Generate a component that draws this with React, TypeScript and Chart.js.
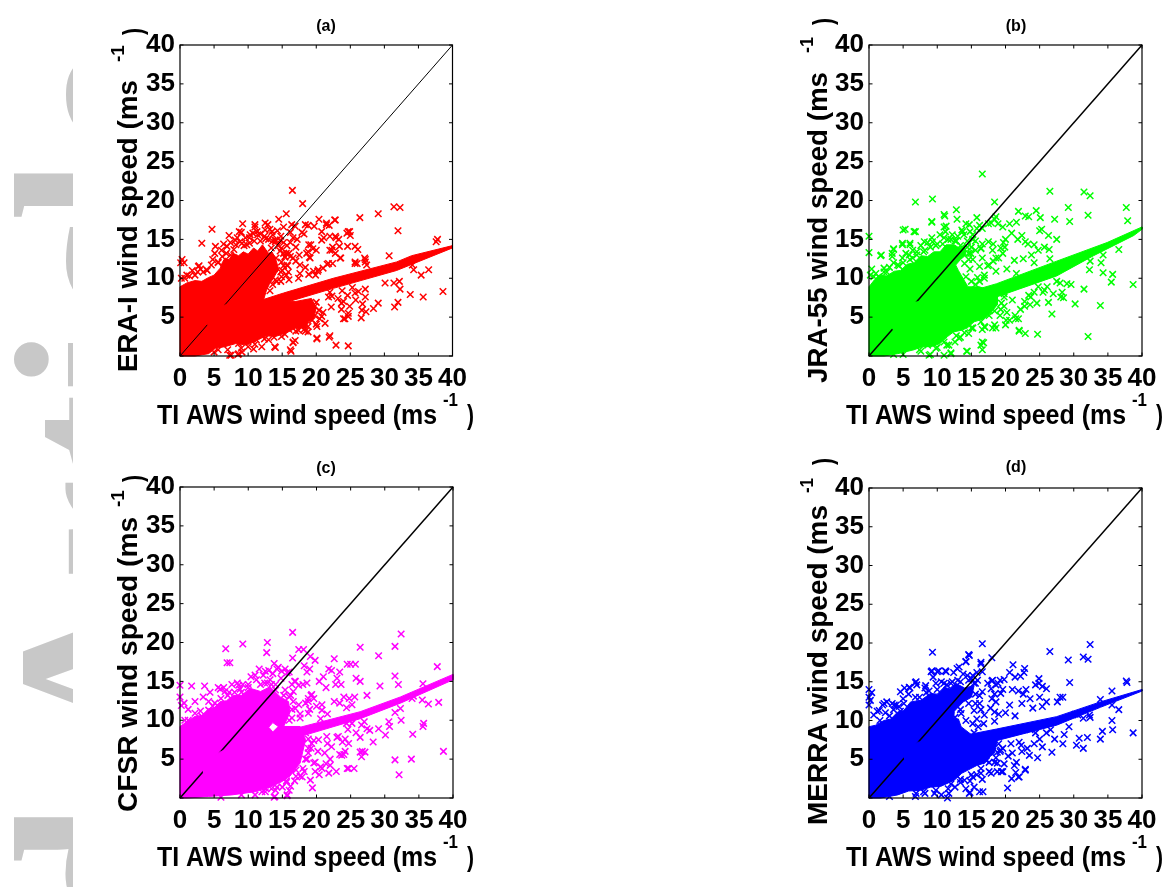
import React, { useEffect, useRef } from "react";
import { Chart, registerables } from "chart.js";

Chart.register(...registerables);

type P = [number, number];

const axisTicks = [0, 5, 10, 15, 20, 25, 30, 35, 40];
const xTitle = "TI AWS wind speed (ms";
const identityLine: P[] = [[0, 0], [40, 40]];

// ---- (a) ERA-I
const eraOutline: P[] = [[0,0],[0,8.9],[1,9.4],[2.2,9.7],[3.2,9.6],[4.2,10.1],[5,10.4],[5.9,11.3],[6.2,12],[6.6,12.6],[7.2,12.4],[7.8,13.2],[8.6,12.9],[9.3,13.4],[10,13.1],[10.8,13.9],[11.4,13.5],[12.1,14.3],[13,13.2],[13.5,13.4],[14,12.6],[14.5,11.1],[14.1,10.6],[13.7,10],[13.1,9.2],[12.7,8.5],[12.2,7],[16.9,7],[19.3,7.4],[20,6.2],[19.6,4.8],[18.9,4.4],[18.4,3.6],[17,3.6],[15.9,3.1],[14,2.5],[12.6,2.6],[11.5,2.1],[9.8,1.4],[8.2,1.6],[6.6,1.2],[5.2,1],[4.2,0.3],[2.2,0],[0,0]];
const eraBandUpper: P[] = [[4,4.8],[6.1,6.4],[7.8,6.9],[12,7.2],[15.2,8.1],[22.5,10],[31.8,12.1],[34,12.9],[40,14.2]];
const eraBandLower: P[] = [[40,13.9],[31.8,11],[22.5,8.7],[15.2,6.8],[7.8,5.4],[5,3.8],[4,4]];
const eraPoints: P[] = [
[16.5,21.3],[18,19.6],[15.6,18.3],[14.5,17.6],[31.4,19.2],[32.3,19.1],[29.1,18.3],[26.4,17.8],[22.7,17.5],[20.4,17.6],[21.5,16.9],[21.9,16.8],[32,16.1],[4.7,16.3],[3.2,14.5],[5.2,14.1],[7.2,15.5],[9.2,17],[37.8,15],[37.6,14.7],[24.9,16],[24.5,15.8],[25,15.5],[38.6,8.3],[35.7,7.6],[33.8,7.9],[36.5,11.1],[35.4,10.4],[34.1,11.7],[34.3,11.1],[30.7,12.9],[30.1,9.4],[31.4,9.4],[32.2,9.6],[32.3,8.6],[31.5,6.3],[32,6.9],[29.1,6.8],[28.4,6.1],[27.3,5.7],[26.8,6.7],[26.6,4.9],[24.7,5.1],[24,4.8],[24.7,1.3],[22.9,1.4],[21.9,2.4],[20.1,2.2],[16.3,0.6],[14,1.1],[16.6,1.7],[16.9,2],[10.8,0.9],[9.1,0.5],[7.5,0.1],[8.5,0.2],
[0.1,12],[0.3,12.4],[0.6,12],[2.8,11.6],[3,11.2],[2.6,10.8],[4,11],[1.4,10.3],[0.2,10],
[18.2,15.7],[17.9,15.9],[17.2,15],[18.8,16.8],[16.9,16.7],[16.2,15.9],[19.5,13.8],[19.2,14.3],[18.8,13.4],[20,13.6],[19,12.7],[18.4,11.4],[17.5,13],[16.2,12.8],[16.6,12.6],[21.1,15.2],[20.8,14.9],[22,15.4],[22.9,15.2],[23.3,15],[22.4,14],[22,13.6],[22.8,13.2],[23.4,14.1],[25.7,14.1],[24.6,14.1],[26.1,13.7],[23.6,12.6],[27.1,12.6],[27.2,12.1],[25.7,11.9],[26,11.9],[21,11.3],[20.2,10.9],[19.6,10.9],[19.9,10.4],[21.6,11.8],[22.4,11.9],[18.9,10.5],
[22,8.2],[22.3,7.7],[23.8,8.4],[24.6,7.8],[23.2,7.4],[24,7],[25.3,8.8],[26.2,8.3],[27.2,8.6],[25.8,7.2],[24.9,6.4],[23.7,6],[22.2,6.3],[21,5.6],[20.5,4.8],[20,4.1],[19.4,4.6],[18.4,3.2],[18,4],[17.1,3.9],[16,3.4],[15.2,3.8],[13,3],[12,2.7],[11.2,2.1],[10.2,2.6],[8.6,1.6],
[5.6,12],[6.2,12.8],[6.8,13.2],[7.4,13],[7.9,13.7],[8.2,14.3],[8.8,14.7],[9,15.9],[9.6,15.2],[10.2,14.5],[10.7,15.8],[11,16.6],[11.4,15.6],[11.8,14.8],[12.6,15.1],[12.9,16.9],[13.2,16.3],[13.6,15.6],[14,14.9],[14.3,16.1],[14.8,15.4],[15.2,16.6],[15.7,14.2],[16,13.2],[15.4,12.7],[14.7,13.5],[14.1,12.6],[13.4,13.9],[15,11],[15.6,10.4],[14.8,9.6],[14,9.8],[16,9.8],[15.8,11.6],
[2.7,11.5],[8.7,16],[11,16.9],[12.5,17.1],[16.4,16.9],[18.4,16.9],[19.7,16.7],[22.8,17.5],[21.5,17.1],[20.8,16],[22.8,15.4],[24.7,16],[22.3,13.6],[18.9,14.3],[18.6,13.2],[19.1,12.6],[17.6,11.7],[17.6,10.6],[17.4,10],[20.3,11.1],[21.8,11.9],[23.5,12.6],[25.7,12.1],[27.2,12.4],[27.4,11.7],
[6.1,13.6],[6.9,14.1],[8.1,14.9],[9.1,14.5],[10.3,15.6],[11.3,16],[12.5,16.2],[13.5,16],[14,14.7],[14.9,13.9],[15.4,12.8],[15.7,11.7],[14.9,10.2],[14.7,14.9],[9.8,14.3],[5.6,12.1],[4.6,11.7],[3.9,11.1],[2.2,10.4],[0.7,10],[5.1,13.2],
[19.8,6.4],[20.8,5.1],[21.3,4.2],[20.1,3.8],[18.8,3.1],[17.4,3.3],[16.6,1.8],[16.2,0.8],[20.1,2.3],[22,2.6],[13.9,1.2],[12,1.2],[10,1.2],[8.6,0.3],[7.3,0.1],[14.9,2.5],[13,2.1],[11,1.5],[5.6,0.8],[21.8,7.6],[23.7,6.8],[24.7,5.5],[24.2,4.8],[26.7,5.9],[27.2,7.6],[25.7,8.1],
[6.4,14.4],[7.4,14.6],[8.4,15.2],[9.4,14.2],[10.2,15.2],[10.9,14.8],[11.8,15.7],[12.4,15.4],[13,15],[13.6,14.8],[14.4,14.2],[15.2,14.6],[15.6,13.2],[16.2,14.6],[16.6,15.2],[15.2,13.2],[14.9,12.1],[15.2,11.6],[14.8,10.8],[14.2,9.6],[13.6,9.2],[13.2,8.4],[15.9,10.8],[17,12.2],[17,14],[1,10.4],[1.8,11],[3.4,10.8],[4.8,12.4],[10.6,2.2],[12.4,2.2],[13.8,2.4],[15.4,2.8],[17,3.2],[18.8,3.8],[19.8,5.2],[20.4,5.9],[20,6.9],[18.2,3.4],[7,0.8],[9,1],[5,0.5]
];

// ---- (b) JRA-55
const jraOutline: P[] = [[0,0],[0,8.9],[0.8,9.8],[1.5,10.4],[2.6,10.3],[3.7,10.9],[4.6,11],[5.6,11.8],[6.6,12],[7.6,12.9],[8.6,12.8],[9.5,13.4],[10.4,13.4],[11.3,14.3],[12.5,14.3],[13.2,13.9],[14,14.3],[14.2,13],[13.4,12.4],[12.7,11.7],[13.1,11],[13.5,10.4],[14.5,8.9],[16.2,8.9],[18.8,8],[18.8,6.6],[17.9,5.6],[16.9,4.8],[15.4,4.4],[14.4,3.6],[13.5,3.3],[12.4,3.1],[11.5,2.5],[10.4,1.6],[9.1,1.2],[7.8,1.2],[6.6,0.8],[4.2,0.3],[2.2,0],[0,0]];
const jraBandUpper: P[] = [[3.2,3.8],[6.6,6.9],[12,7.6],[18.7,9.3],[27.5,12.2],[34.9,14.6],[40,16.6]];
const jraBandLower: P[] = [[40,16.3],[38.8,15.5],[32.9,12.9],[27.5,10.3],[18.7,7.6],[12,6],[6.6,5.2],[3.6,3.2]];
const jraPoints: P[] = [
[16.6,23.4],[6.8,19.8],[9.3,20.2],[18.4,19.8],[26.5,21.2],[31.5,21.1],[32.4,20.6],[29.2,19.1],[37.7,19.1],[32.1,18.1],[37.9,17.4],[29.4,17.3],[27.2,17.6],[12.8,18.8],[11,18.2],[11.1,18],[9.2,17.3],[12.9,17.6],[15.8,17.8],[0,15.4],[0,13.3],[1.8,13],[3.6,13.8],[3.4,13.2],[5.3,16.3],[6.8,16],[4.9,14.5],[6,14.5],[24.5,18.7],[21.9,18.6],[22.9,18],[23.4,17.9],[25.1,17.8],[27.5,15],[26.3,15.5],[25,16.1],[25.3,16.3],[22.4,15.5],[38.7,9.2],[35.7,10.5],[35.5,9.5],[36.6,13.7],[34.3,13],[34,12],[34.3,10.7],[32.4,12.2],[32.3,11.1],[31.5,8.6],[30.2,6.7],[33.9,6.5],[32.1,2.5],[24.7,2.8],[22.9,2.9],[22,3.3],[26.8,5.4],[26.3,6.9],[28.5,7.5],[28.3,8.2],[29,9.3],[29.6,9.2],[16.6,0.8],[16.8,1.7],[16.4,1.4],[14.3,0.6],[11,0.1],[9,0.2],[12,0.4],
[18.4,17.6],[18.9,17],[17.5,17],[19.6,16.6],[20,15],[20.6,17],[21.6,17.2],[20.9,15.8],[19.7,14.6],[18.2,14.4],[17.5,14.7],[16.4,13.8],[16.6,14.4],[19.6,13.2],[19,12.6],[18.2,12.2],[19.9,14],[21.8,15],[22.9,14.7],[23.3,14.4],[24.2,14.3],[24.8,13.6],[23.8,13],[25.7,14],[26.4,13.7],[22.6,12.5],[21.3,12.3],[24.2,12],[26.5,12.5],[20.2,11.2],[17.4,11.6],[16.9,10.4],[18.6,10.9],[21.6,10.6],
[27,8],[26.1,8.9],[25.5,8.2],[24.8,8.9],[24.2,8.2],[23.4,7.8],[22.8,7],[23.6,6.6],[24.6,6.8],[22.2,6],[21.4,5.2],[21.9,4.8],[20.6,4.6],[20,4],[20.2,5.6],[19.2,5.2],[18.4,4],[18.6,3.6],[17,3.7],[16.6,3.4],[15.2,3.6],[14.6,2.9],[13.4,2.4],[12.6,1.8],[11.4,1.4],[10,1.1],[8.6,1.4],[7.4,0.8],[27.5,9.6],[28,9.4],
[0.4,11.2],[0.2,10.4],[1.4,10.2],[2.2,10.8],[3,11.4],[3.6,12],[4.4,11.6],[4.9,12.6],[5.4,13.2],[6,12.4],[6.4,13.6],[7,13],[7.6,14.2],[8.2,13.6],[8.6,14.6],[9.2,15.2],[9.8,14.2],[10.4,15.6],[10.8,14.4],[11.2,16],[11.6,15],[12.6,14.8],[13,15.4],[13.4,14.2],[13.9,15.6],[14.4,14.8],[14.8,16],[15.2,15],[15.6,13.6],[15.2,12.4],[14.6,13.2],[15.8,16.4],[16.2,16.8],[14.2,17],[13.6,16.2],[11,16.6],
[1.7,12.9],[3.4,12.8],[3.6,13.7],[5,16.2],[6.6,16],[6,14.3],[4.9,14.3],[8.1,14.7],[9.2,17.2],[11.3,16.7],[14.7,16.9],[13.7,16],[12.2,15.6],[11,15.2],[9.3,14.7],[15.2,15.6],[16.6,16.4],[17.9,17.1],[18.6,17.9],[16.4,13.9],[18.1,13.6],[19.3,13.9],[18.6,12.6],[16.6,12.6],[16.2,11.5],[14.9,13.2],[14,11.9],[17.6,11.7],[16.9,10],[15.9,10.1],[4.2,11.7],[5.9,13],[2.2,11.3],[0.7,10.2],
[19.8,7.6],[21,7.2],[21.5,4.8],[20.1,4.6],[19.8,6.4],[19.3,6],[18.1,3.6],[16.9,3.8],[15.2,3.6],[16.6,1.8],[14.4,0.6],[12,0.3],[8.8,0.1],[11.7,1.4],[13.2,2.3],[22,3.2],[22.8,6.4],[23.7,7.6],[25.7,8.5],[28.1,7.6],
[5,12],[6.4,12.6],[7,13.4],[8,13.4],[9,14],[10,14.4],[12,15],[12.8,14.8],[14.4,14],[15,14],[15.6,14.8],[14.6,12.4],[14.8,11.2],[14.2,10.2],[15,9.6],[15.6,9.2],[16.2,9.6],[1,10.6],[2.6,10.8],[17.6,5.2],[18.4,5.8],[19.4,6.8],[19.8,8],[16.4,4.4],[15,3.6],[14,3],[12.8,2.6],[11,1.8],[9.8,1],[7.6,0.6],[5,0.2],[3.6,0.2]
];

// ---- (c) CFSR
const cfsrOutline: P[] = [[0,0],[0,9.2],[1,9.8],[2.2,10.5],[3.2,10.6],[4.2,11.5],[5,11.6],[5.9,12.4],[6.8,12.5],[7.8,13.2],[9,13.2],[10.3,14.1],[11.8,13.7],[13.2,14.3],[14.7,13],[15.9,12.4],[16.1,11],[15.2,9.2],[14.4,9.2],[13.6,9.7],[13,9.1],[13.6,8.5],[14.4,9.2],[15.2,9.2],[17.6,9.2],[18.4,7.5],[18,6],[17.6,4.5],[16.8,3.6],[16.1,2.8],[14.9,2.1],[13.5,1.5],[11,0.8],[7.6,0.4],[4.2,0.2],[1.2,0],[0,0]];
const cfsrBandUpper: P[] = [[3.2,4.2],[5.6,5.8],[10,7.6],[17.6,9.1],[26.4,11.1],[32.3,13],[40,15.9]];
const cfsrBandLower: P[] = [[40,15.2],[32.3,12.2],[26.4,10.2],[17.6,7.9],[10,6.2],[5.6,4.4],[3.4,3]];
const cfsrPoints: P[] = [
[16.5,21.3],[32.4,21.1],[31.5,19.5],[12.8,20],[9.2,19.8],[6.7,19.2],[12.7,18.7],[18.1,19.1],[17.4,19.1],[16.5,18],[19.1,18.2],[19.8,17.7],[22.6,17.9],[29.1,18.3],[26.4,19.4],[24.5,17.2],[25,17.2],[25.7,17.2],[6.9,17.4],[7.3,17.4],[37.7,16.9],[31.5,15.7],[32,14.6],[29.3,14.4],[35.6,14.7],[37.9,12.3],[36.4,12.1],[35.5,12.6],[34,12.8],[34.2,13.1],[38.6,6],[33.9,5],[31.5,4.9],[32.1,3],[34.1,8.2],[35.7,9.6],[35.6,9.2],[32.4,10],[32.3,11.5],[31.5,11],[30.6,9.8],[30.7,9.2],[30.1,8.1],[29.1,8.9],[28.3,7.2],[27.4,8.9],[26.4,7.8],[27.8,8.7],[27.1,5.9],[26.4,5.9],[26.6,5.3],[24.7,3.8],[25.5,3.8],[22.9,3.4],[19.4,1.3],[13.8,0.1],[15.7,0.3],
[0,14.5],[1.7,14.4],[3.6,14.4],[0,13],[0.2,11.9],[2.2,12.4],[3.4,13],[0.6,12.2],[1.2,11.4],[4.4,13.6],[4.2,12.4],[5.6,14.2],[6.4,14.2],[7.6,14.6],[8.4,14.8],[9.2,14.6],[7,13.2],[8,13.6],[9,13.6],[10,14.6],[11,15.8],[11.6,16.6],[11.2,15.2],[10.4,15.6],[12.4,14.8],[13,16.4],[13.6,16],[13.4,14.6],[14.2,16.6],[14.8,15.4],[15.4,16.6],[16,16.2],[13.8,17.3],[14.4,16.8],[12.2,15.8],[16.4,14.6],[16.8,15],[16.2,13.2],[17.4,14.5],[18,14.6],[18.6,14.8],[19.2,13.2],[19.6,12.8],[18.8,12.4],[19,11.4],[20,11.8],[17.4,12],[17.6,10.8],[18.6,16.2],[18.2,17],[19,16.6],[20.4,15],[21,15.6],[21.8,16.6],[22.2,16.4],[23.4,16.2],[23,15.4],[22.8,14.6],[23.6,14.6],[21.4,14.2],[20.8,12],[22.6,12.4],[23.4,12.2],[24,13],[24.8,12.8],[25.6,13],[25.2,12],[24.4,11.6],[25.8,15.4],[26.4,15],[27.4,13.2],[21.6,10.8],[20.6,10.2],
[25.2,9.6],[24.6,8.8],[24.4,9.6],[23.8,7.2],[24.2,7.6],[23,7.8],[24.2,6],[23.4,5.6],[24,5.6],[22.2,6.6],[21.6,7],[21.2,5.8],[22,5],[21.4,4.4],[22,4.2],[20.8,3.8],[20.4,3],[19.8,3.4],[19.8,4.6],[20.2,6],[19.2,6.4],[19.6,7.4],[18.6,5],[18.2,3.4],[17.6,2.8],[16.8,2.2],[17,3.6],[15.6,2.2],[15,1.4],[14,1],[13.4,1.2],[12,0.8],[11,0.4],[16,1],[26.6,9.4],[27,9.8],[25.8,8.4],
[5.9,14],[6.6,13.7],[8.6,14.5],[12.5,16.3],[13.2,15.2],[14.9,16.3],[15.7,16.1],[16.9,15],[16.6,13.7],[15.4,13.9],[14,13.9],[18.8,12.8],[18.4,12.2],[19.3,13.3],[16.9,11.5],[16.4,10.3],[17.6,10.3],[18.8,10.9],[20.8,11.3],[4.2,11.3],[2.2,10.9],[0.7,10],[3.2,10.5],[5.1,12.2],
[19.3,7],[20.3,7.5],[21.5,7.9],[18.8,5.8],[19.6,4.5],[20.6,4],[17.9,2.7],[19.1,2.3],[16.2,1.5],[14.9,3.2],[12.5,0.8],[13.9,0.2],[15.7,0.4],[21.8,3.2],[24.5,3.8],[26.7,6],[23.7,5.5],[24.7,7],[23.2,7.9],
[6,12.8],[7.2,13.6],[8.8,14],[10,14.2],[11.8,14.6],[12.8,14.8],[14,14.6],[15.2,13.2],[16,13],[16.6,12.4],[16.4,11.4],[16,10],[1.2,10],[3,11.2],[4.8,11.8],[18.4,8.4],[18.8,7.6],[18.8,6.4],[18.4,5],[18,3.8],[17,2.8],[15.6,2],[14.2,1.4],[12.6,1.2],[9,0.4],[6,0.1]
];

// ---- (d) MERRA
const merraOutline: P[] = [[0,0],[0,9.2],[1,9.4],[2.2,10],[3.2,10.2],[4.2,11.1],[5.1,11.3],[6.1,12.4],[7.6,12.6],[9,13.5],[10,13.4],[11,14.3],[11.8,14.1],[12.7,14.8],[14,14.2],[15.4,14.5],[15,13],[13.8,12.4],[12.5,11.2],[12.4,10.2],[13.1,10.2],[13.5,9.2],[15.4,7.9],[18.8,7.5],[18.4,5.8],[17.8,5.4],[16.9,4.5],[15.8,4.2],[14.5,3.6],[13.6,3.2],[12.5,2.3],[10.5,1.5],[9,1.4],[7.6,1],[5.8,0.9],[4.2,0.4],[1.7,0],[0,0]];
const merraBandUpper: P[] = [[5,5.8],[7.1,7.2],[10,7.4],[18.7,8.9],[27.5,10.5],[33.9,12.4],[40,14]];
const merraBandLower: P[] = [[40,13.8],[33.9,11.7],[27.5,9.4],[18.7,7.4],[10,6],[7.6,5.6],[5.2,4.6]];
const merraPoints: P[] = [
[16.6,19.9],[32.4,19.8],[31.4,18.2],[32.1,17.9],[29.2,17.8],[26.5,18.9],[9.3,18.8],[14.6,18.5],[14.2,17.6],[16.4,17.5],[18,18.1],[21.1,17.2],[37.7,15.1],[37.8,14.9],[29.4,14.9],[24.9,15.4],[22.8,16.7],[22.7,16.2],[35.6,13.8],[33.9,12.7],[36.6,11.4],[35.6,12],[32.3,10.7],[32.4,10.4],[31.4,10.3],[30.2,10.8],[30.6,10.7],[29.3,9.2],[35.6,10],[35.7,8.8],[34.2,8.6],[38.7,8.4],[33.9,7.6],[32,7.8],[30.8,7.7],[31.4,6.4],[30.4,6.8],[28.4,7],[28.6,8.2],[26.8,5.9],[24.7,5.2],[22.9,3.7],[21.9,2.7],[20.9,2.5],[21.5,3.3],[20.3,1.3],[16.7,0.8],[16.2,0.8],[14.8,0.7],[11.5,0],[0,14],[0,13],[0,12],[0.4,13.6],[0.2,12.6],
[2.6,12.4],[2,12],[3.4,12.2],[4,12],[1.2,11.2],[2.4,11],[3.6,11.4],[4.6,11.2],[5,12.8],[5.2,14.2],[6,14.2],[6.8,14.9],[7,14.6],[5.8,13.4],[7.4,13],[8.2,14.2],[8.8,13.8],[9.2,16.4],[9.4,15.6],[10.2,16.4],[11.2,16.4],[9.8,14.8],[10.6,15],[11.4,14.6],[12,14.8],[12.4,16.2],[12.9,16.7],[13,15.2],[13.8,16],[14.4,15.8],[15,15.4],[15.8,16.2],[15.4,14.8],[15.6,12.2],[16.2,13.2],[16.4,11.4],[15.8,10.2],[16.8,9.6],
[18,15.1],[18.6,14.6],[19.2,15.2],[19.6,14],[18.4,13.4],[18,12.8],[17.4,14.8],[19.8,15.3],[20.6,16.2],[21.4,15.6],[22.2,15.7],[21,14],[21.9,13.8],[22.6,13.4],[23,14],[23.6,12.8],[24.4,14.6],[24.9,14.8],[25.4,14.4],[26,14.1],[25,13],[26,12.4],[25.4,11.8],[24,11.6],[22.4,12.2],[20.6,12],[20,11],[19,10.8],[17.8,11.6],[18.4,9.9],[21.4,10.6],[28,13],[27.6,12.4],[28.4,13],
[23.6,8.8],[24.4,8.4],[25,7.6],[26,8.4],[26.6,8.8],[27.2,7.6],[24.2,7],[25.4,6.6],[23.2,6.4],[22.4,6],[22,7.2],[21,5.8],[20.4,5.4],[21.6,4.6],[19.8,4.4],[19.4,3.4],[18.8,3.4],[18.4,4.6],[17.6,3.4],[17.2,4.8],[16.6,2.4],[15.8,3],[14.8,2.2],[15.4,1.4],[14.2,1.2],[13.4,2],[12.6,1.4],[11.6,1.2],[10.6,0.4],[9.6,0.6],[8.2,0.6],[6.8,0.2],[19.6,6.4],[18.8,5.9],
[4.6,13.7],[5.9,14.3],[6.9,15],[8.3,14.5],[9.1,16.3],[10,16.3],[11.3,16.3],[13.2,16.9],[14.2,17.6],[14.7,18.4],[16.4,17.3],[15.2,15.8],[16.6,16.3],[15.9,15.2],[18.1,15.2],[18.9,14.8],[17.9,14.1],[19.3,13.5],[18.6,12.4],[16.6,13.7],[16.2,12.2],[16.9,10.7],[15.4,11.3],[18.4,11.1],[13.5,10.9],[14.2,10],[15.2,9.6],[2.2,12.2],[3.7,12],[0.7,10.7],[1.5,11.3],[5.1,12.2],
[19.3,6.2],[20.8,7],[22.3,6.8],[23.5,5.5],[18.8,4.5],[17.9,3.2],[19.6,3.4],[21.3,4.2],[22,2.7],[22.9,3.6],[14.7,0.6],[11.7,0.6],[6.9,0.6],[15.2,2.7],[14,2.3],[16.4,3.2],
[6.8,13],[8.4,13.6],[10,14],[11,14.8],[12.2,15],[13.4,15],[14.6,15.2],[15.6,14.8],[15.6,13.4],[14.6,12.2],[13.4,11.4],[12.6,10.4],[16,9.2],[15.4,8.4],[1.6,10],[3,10.6],[4.4,11.8],[19,7],[19.2,6],[18.6,5.2],[17.6,4.6],[16.4,3.8],[15,3],[13.4,2.4],[12,1.8],[9.8,1],[8,0.8],[3,0.2]
];

interface Panel {
  letter: string; yName: string; color: string; lineWidth: number;
  left: number; top: number; width: number; height: number;
  yAxisWidth: number; padRight: number; padTop: number; xAxisHeight: number;
  outline: P[]; bandUpper: P[]; bandLower: P[]; points: P[];
  titlePos: P; yLen: number; yTextX: number; yTextEnd: number; supY: P; closeY: number; supX: number; closeX: number;
}

const panels: Panel[] = [
  { letter: "(a)", yName: "ERA-I wind speed (ms", color: "#ff0000", lineWidth: 1, left: 100, top: 0, width: 380, height: 440, yAxisWidth: 80, padRight: 27.5, padTop: 45, xAxisHeight: 84, outline: eraOutline, bandUpper: eraBandUpper, bandLower: eraBandLower, points: eraPoints, titlePos: [326, 27], yLen: 292, yTextX: 137, yTextEnd: 372, supY: [62, 45], closeY: 35, supX: 124, closeX: 142 },
  { letter: "(b)", yName: "JRA-55 wind speed (ms", color: "#00ff00", lineWidth: 1.5, left: 790, top: 0, width: 378, height: 440, yAxisWidth: 79, padRight: 26, padTop: 45, xAxisHeight: 84, outline: jraOutline, bandUpper: jraBandUpper, bandLower: jraBandLower, points: jraPoints, titlePos: [1016, 27], yLen: 311, yTextX: 827, yTextEnd: 383, supY: [53, 37], closeY: 25, supX: 813, closeX: 832 },
  { letter: "(c)", yName: "CFSR wind speed (ms", color: "#ff00ff", lineWidth: 1.5, left: 100, top: 440, width: 380, height: 447, yAxisWidth: 80, padRight: 27, padTop: 47, xAxisHeight: 89, outline: cfsrOutline, bandUpper: cfsrBandUpper, bandLower: cfsrBandLower, points: cfsrPoints, titlePos: [326, 469], yLen: 295, yTextX: 137, yTextEnd: 812, supY: [507, 490], closeY: 482, supX: 124, closeX: 142 },
  { letter: "(d)", yName: "MERRA wind speed (ms", color: "#0000ff", lineWidth: 1.5, left: 790, top: 450, width: 378, height: 437, yAxisWidth: 79, padRight: 26, padTop: 38, xAxisHeight: 89, outline: merraOutline, bandUpper: merraBandUpper, bandLower: merraBandLower, points: merraPoints, titlePos: [1016, 468], yLen: 320, yTextX: 827, yTextEnd: 825, supY: [493, 478], closeY: 465, supX: 813, closeX: 832 },
];

const watermarkText = "Accepted Article";
const watermarkLetters: { ch: string; y: number }[] = [
  { ch: "e", y: 150 }, { ch: "l", y: 222 }, { ch: "c", y: 321 }, { ch: "i", y: 392 }, { ch: "t", y: 470 }, { ch: "r", y: 580 }, { ch: "A", y: 751 }, { ch: "d", y: 931 },
];

const FONT = '"Liberation Sans", Arial, sans-serif';

function stretchedText(ctx: CanvasRenderingContext2D, s: string, x: number, y: number, len: number, vertical: boolean, size = 28) {
  ctx.save();
  ctx.font = `bold ${size}px ${FONT}`;
  ctx.fillStyle = "#000";
  ctx.textAlign = "left";
  ctx.textBaseline = "alphabetic";
  ctx.translate(x, y);
  if (vertical) ctx.rotate(-Math.PI / 2);
  ctx.scale(len / ctx.measureText(s).width, 1);
  ctx.fillText(s, 0, 0);
  ctx.restore();
}

function buildChart(canvas: HTMLCanvasElement, p: Panel) {
  const framePlugin = {
    id: "frame",
    afterDatasetsDraw(chart: any) {
      const { ctx, chartArea: a, scales } = chart;
      ctx.save();
      ctx.strokeStyle = "#000";
      ctx.lineWidth = 1.2;
      ctx.strokeRect(a.left, a.top, a.right - a.left, a.bottom - a.top);
      ctx.lineWidth = 1;
      ctx.beginPath();
      for (const t of axisTicks) {
        const x = scales.x.getPixelForValue(t);
        const y = scales.y.getPixelForValue(t);
        ctx.moveTo(x, a.bottom); ctx.lineTo(x, a.bottom - 3.5);
        ctx.moveTo(x, a.top); ctx.lineTo(x, a.top + 3.5);
        ctx.moveTo(a.left, y); ctx.lineTo(a.left + 3.5, y);
        ctx.moveTo(a.right, y); ctx.lineTo(a.right - 3.5, y);
      }
      ctx.stroke();
      ctx.restore();

      const ox = p.left, oy = p.top;
      ctx.save();
      ctx.font = `bold 16px ${FONT}`;
      ctx.fillStyle = "#000";
      ctx.textAlign = "center";
      ctx.textBaseline = "middle";
      ctx.fillText(p.letter, p.titlePos[0] - ox, p.titlePos[1] - oy);
      ctx.restore();
      const bx = a.left - 23;
      const by = a.bottom + 68;
      stretchedText(ctx, xTitle, bx, by, 280, false);
      stretchedText(ctx, "-1", bx + 286, by - 18, 15, false, 18);
      stretchedText(ctx, ")", bx + 310, by, 7, false);
      stretchedText(ctx, p.yName, p.yTextX - ox, p.yTextEnd - oy, p.yLen, true);
      stretchedText(ctx, "-1", p.supX - ox, p.supY[0] - oy, p.supY[0] - p.supY[1], true, 18);
      stretchedText(ctx, ")", p.closeX - ox, p.closeY - oy, 7, true);
    },
  };

  const toXY = (d: P[]) => d.map(([x, y]) => ({ x, y }));
  const band = [...p.bandUpper, ...p.bandLower];
  const tickFont = { family: FONT, size: 26, weight: "bold" as const };

  return new Chart(canvas, {
    type: "scatter",
    data: {
      datasets: [
        { label: "band", data: toXY(band), showLine: true, fill: "shape", borderColor: p.color, backgroundColor: p.color, borderWidth: 1, pointRadius: 0, tension: 0, clip: false },
        { label: "1:1", data: toXY(identityLine), showLine: true, borderColor: "#000", borderWidth: p.lineWidth, pointRadius: 0, clip: false },
        { label: "samples", data: toXY(p.points), pointStyle: "crossRot", pointRadius: 4.6, pointBorderColor: p.color, pointBorderWidth: 1.5, borderColor: p.color, backgroundColor: p.color, clip: false },
        { label: "dense", data: toXY(p.outline), showLine: true, fill: "shape", borderColor: p.color, backgroundColor: p.color, borderWidth: 1, pointRadius: 0, tension: 0, clip: false },
      ] as any,
    },
    options: {
      animation: false,
      responsive: false,
      layout: { autoPadding: false, padding: { left: 0, top: p.padTop, right: p.padRight, bottom: 0 } },
      plugins: { legend: { display: false }, tooltip: { enabled: false } },
      scales: {
        x: {
          type: "linear", min: 0, max: 40,
          afterFit: (s: any) => { s.height = p.xAxisHeight; },
          afterBuildTicks: (s: any) => { s.ticks = axisTicks.map((value) => ({ value })); },
          grid: { display: false, drawTicks: false },
          border: { display: false },
          ticks: { font: tickFont, color: "#000", padding: 7, autoSkip: false, maxRotation: 0 },
        },
        y: {
          type: "linear", min: 0, max: 40,
          afterFit: (s: any) => { s.width = p.yAxisWidth; },
          afterBuildTicks: (s: any) => { s.ticks = axisTicks.map((value) => ({ value })); },
          grid: { display: false, drawTicks: false },
          border: { display: false },
          ticks: { font: tickFont, color: "#000", padding: 5, autoSkip: false, callback: (v: any) => (v === 0 ? "" : String(v)) },
        },
      },
    } as any,
    plugins: [framePlugin],
  });
}

function PanelChart({ p }: { p: Panel }) {
  const ref = useRef<HTMLCanvasElement>(null);
  useEffect(() => {
    const c = buildChart(ref.current!, p);
    return () => c.destroy();
  }, [p]);
  return (
    <canvas
      ref={ref}
      width={p.width}
      height={p.height}
      style={{ position: "absolute", left: p.left, top: p.top, width: p.width, height: p.height }}
    />
  );
}

export default function App() {
  return (
    <div style={{ position: "absolute", left: 0, top: 0, width: 1168, height: 887, overflow: "hidden", background: "#fff" }}>
      <div aria-label={watermarkText} style={{ position: "absolute", left: 0, top: 0, width: 73, height: 887, overflow: "hidden" }}>
        {watermarkLetters.map((l) => (
          <span
            key={l.ch}
            style={{
              position: "absolute", left: 98, top: l.y, color: "#c8c8c8",
              font: `bold 230px "Liberation Serif", serif`, lineHeight: "0px",
              transformOrigin: "0 0", transform: "rotate(-90deg)", whiteSpace: "pre",
            }}
          >
            {l.ch}
          </span>
        ))}
      </div>
      {panels.map((p) => (
        <PanelChart key={p.letter} p={p} />
      ))}
    </div>
  );
}
